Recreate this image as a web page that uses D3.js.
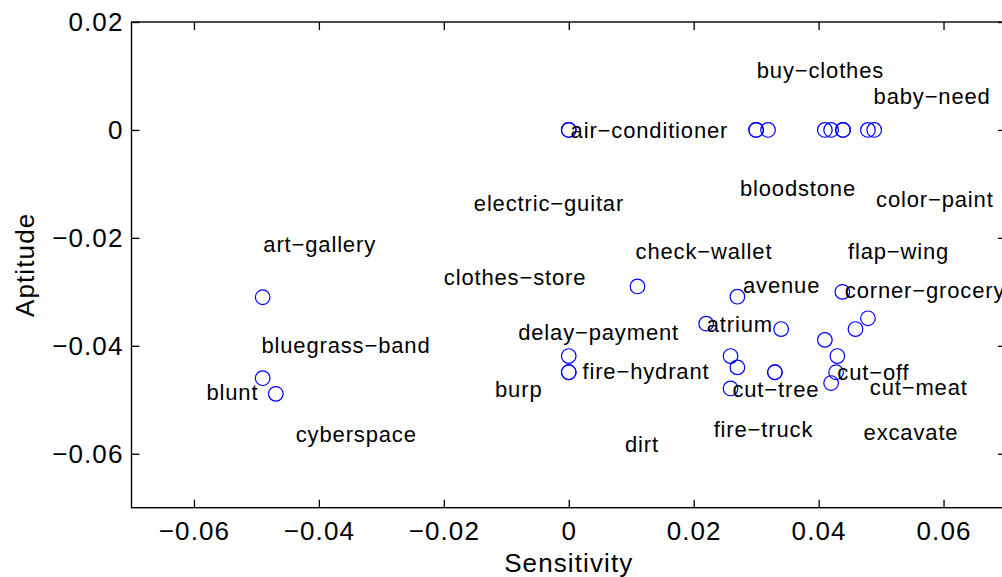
<!DOCTYPE html>
<html><head><meta charset="utf-8">
<script src="https://cdn.jsdelivr.net/npm/d3@7"></script>
<style>
html,body{margin:0;padding:0;background:#fff;}
svg{display:block;}
text{font-family:"Liberation Sans",Arial,Helvetica,sans-serif;fill:#000;}
</style></head>
<body>
<svg id="chart" width="1002" height="577"></svg>
<script>
// Data points (Sensitivity, Aptitude)
const pointX = [-0.0490, -0.0490, -0.0469, 0, 0, 0.0300, 0.0300, 0.0319, 0.0410, 0.0420, 0.0439, 0.0439, 0.0479, 0.0489,
  0.0110, 0.0270, 0.0438, 0.0220, 0.0340, 0.0479, 0.0459, 0.0410, 0, 0, 0, 0.0259, 0.0270, 0.0330, 0.0330, 0.0430, 0.0428, 0.0420, 0.0259];
const pointY = [-0.0310, -0.0460, -0.0489, 0, 0, 0, 0, 0, 0, 0, 0, 0, 0, 0,
  -0.0290, -0.0309, -0.0300, -0.0359, -0.0369, -0.0349, -0.0369, -0.0389, -0.0419, -0.0449, -0.0449, -0.0419, -0.0440, -0.0449, -0.0449, -0.0419, -0.0449, -0.0469, -0.0479];

// Word labels and their positions (data coordinates of left end of baseline)
const labelText = ["art\u2212gallery","electric\u2212guitar","clothes\u2212store","buy\u2212clothes","baby\u2212need","air\u2212conditioner",
  "bloodstone","color\u2212paint","check\u2212wallet","flap\u2212wing","avenue","corner\u2212grocery","bluegrass\u2212band","blunt",
  "cyberspace","burp","delay\u2212payment","atrium","fire\u2212hydrant","cut\u2212tree","cut\u2212off","cut\u2212meat","fire\u2212truck","excavate","dirt"];
const labelX = [-0.0489, -0.0152, -0.0200, 0.0301, 0.0488, 0.0003,
  0.0274, 0.0492, 0.0107, 0.0447, 0.0279, 0.0442, -0.0492, -0.0580,
  -0.0437, -0.0118, -0.0081, 0.0221, 0.0022, 0.0262, 0.0430, 0.0482, 0.0232, 0.0472, 0.0090];
const labelY = [-0.0226, -0.0151, -0.0287, 0.0097, 0.0048, -0.0015,
  -0.0122, -0.0142, -0.0239, -0.0239, -0.0302, -0.0312, -0.0413, -0.0501,
  -0.0578, -0.0494, -0.0389, -0.0374, -0.0462, -0.0494, -0.0463, -0.0492, -0.0569, -0.0574, -0.0597];

const xTicks = [-0.06, -0.04, -0.02, 0, 0.02, 0.04, 0.06];
const yTicks = [-0.06, -0.04, -0.02, 0, 0.02];

const svg = d3.select("#chart");
const pLeft = 131.5, pRight = 1006, pTop = 22, pBottom = 507.7;
const x = d3.scaleLinear().domain([-0.07, 0.07]).range([pLeft, pRight]);
const y = d3.scaleLinear().domain([-0.07, 0.02]).range([pBottom, pTop]);

const fmt = v => v === 0 ? "0" : d3.format(".2f")(v).replace("-", "\u2212");
const tickLen = 8;

// axes
const gx = svg.append("g").attr("transform", `translate(0,${pBottom})`)
  .call(d3.axisBottom(x).tickValues(xTicks).tickSize(-tickLen).tickPadding(14).tickFormat(fmt));
const gxt = svg.append("g").attr("transform", `translate(0,${pTop})`)
  .call(d3.axisTop(x).tickValues(xTicks).tickSize(-tickLen).tickFormat(""));
const gy = svg.append("g").attr("transform", `translate(${pLeft},0)`)
  .call(d3.axisLeft(y).tickValues(yTicks).tickSize(-tickLen).tickPadding(8).tickFormat(fmt));
const gyr = svg.append("g").attr("transform", `translate(${pRight},0)`)
  .call(d3.axisRight(y).tickValues(yTicks).tickSize(-tickLen).tickFormat(""));
[gx, gxt, gy, gyr].forEach(g => {
  g.select(".domain").remove();
  g.selectAll(".tick line").attr("stroke", "#000").attr("stroke-width", 1.3);
  g.selectAll(".tick text").attr("font-size", 26).attr("letter-spacing", 1.1)
    .attr("font-family", "'Liberation Sans',Arial,sans-serif").attr("fill", "#000");
});
gx.selectAll(".tick text").attr("dy", "0.71em");

svg.append("rect").attr("x", pLeft).attr("y", pTop).attr("width", pRight - pLeft).attr("height", pBottom - pTop)
  .attr("fill", "none").attr("stroke", "#000").attr("stroke-width", 1.4);

// axis labels
svg.append("text").attr("x", x(0)).attr("y", 572).attr("text-anchor", "middle")
  .attr("font-size", 26).attr("letter-spacing", 1.1).text("Sensitivity");
svg.append("text").attr("transform", `translate(34,${(pTop + pBottom) / 2}) rotate(-90)`)
  .attr("text-anchor", "middle").attr("font-size", 26).attr("letter-spacing", 1.1).text("Aptitude");

// points
svg.append("g").selectAll("circle").data(pointX.map((v, i) => [v, pointY[i]])).join("circle")
  .attr("cx", d => x(d[0])).attr("cy", d => y(d[1])).attr("r", 7.3)
  .attr("fill", "none").attr("stroke", "#0000ff").attr("stroke-width", 1.2);

// labels
svg.append("g").selectAll("text").data(labelText.map((t, i) => [t, labelX[i], labelY[i]])).join("text")
  .attr("x", d => x(d[1])).attr("y", d => y(d[2]))
  .attr("font-size", 22).attr("letter-spacing", 0.85).text(d => d[0]);
</script>
</body></html>
